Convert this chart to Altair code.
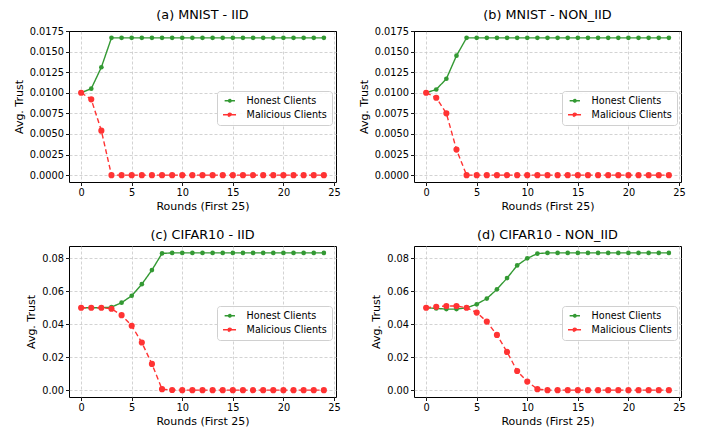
import altair as alt
import pandas as pd

rounds = list(range(25))
series_names = ["Honest Clients", "Malicious Clients"]

a_honest = [0.0100, 0.0105, 0.0131, 0.01667, 0.01667, 0.01667, 0.01667, 0.01667, 0.01667, 0.01667,
            0.01667, 0.01667, 0.01667, 0.01667, 0.01667, 0.01667, 0.01667, 0.01667, 0.01667, 0.01667,
            0.01667, 0.01667, 0.01667, 0.01667, 0.01667]
a_malicious = [0.0100, 0.0092, 0.0054, 0.0, 0.0, 0.0, 0.0, 0.0, 0.0, 0.0,
               0.0, 0.0, 0.0, 0.0, 0.0, 0.0, 0.0, 0.0, 0.0, 0.0,
               0.0, 0.0, 0.0, 0.0, 0.0]

b_honest = [0.0100, 0.0104, 0.0117, 0.0145, 0.01667, 0.01667, 0.01667, 0.01667, 0.01667, 0.01667,
            0.01667, 0.01667, 0.01667, 0.01667, 0.01667, 0.01667, 0.01667, 0.01667, 0.01667, 0.01667,
            0.01667, 0.01667, 0.01667, 0.01667, 0.01667]
b_malicious = [0.0100, 0.0094, 0.0075, 0.0031, 0.0, 0.0, 0.0, 0.0, 0.0, 0.0,
               0.0, 0.0, 0.0, 0.0, 0.0, 0.0, 0.0, 0.0, 0.0, 0.0,
               0.0, 0.0, 0.0, 0.0, 0.0]

c_honest = [0.0500, 0.0500, 0.0500, 0.0504, 0.0531, 0.0573, 0.0643, 0.0729, 0.0830, 0.0833,
            0.0833, 0.0833, 0.0833, 0.0833, 0.0833, 0.0833, 0.0833, 0.0833, 0.0833, 0.0833,
            0.0833, 0.0833, 0.0833, 0.0833, 0.0833]
c_malicious = [0.0500, 0.0500, 0.0500, 0.0494, 0.0455, 0.0391, 0.0289, 0.0159, 0.0006, 0.0001,
               0.0, 0.0, 0.0, 0.0, 0.0, 0.0, 0.0, 0.0, 0.0, 0.0,
               0.0, 0.0, 0.0, 0.0, 0.0]

d_honest = [0.0500, 0.0496, 0.0492, 0.0492, 0.0500, 0.0521, 0.0556, 0.0612, 0.0680, 0.0757,
            0.0800, 0.0829, 0.0833, 0.0833, 0.0833, 0.0833, 0.0833, 0.0833, 0.0833, 0.0833,
            0.0833, 0.0833, 0.0833, 0.0833, 0.0833]
d_malicious = [0.0500, 0.0506, 0.0511, 0.0511, 0.0500, 0.0471, 0.0416, 0.0335, 0.0232, 0.0116,
               0.0052, 0.0006, 0.0, 0.0, 0.0, 0.0, 0.0, 0.0, 0.0, 0.0,
               0.0, 0.0, 0.0, 0.0, 0.0]

titles = ["(a) MNIST - IID", "(b) MNIST - NON_IID", "(c) CIFAR10 - IID", "(d) CIFAR10 - NON_IID"]
x_ticks = [0, 5, 10, 15, 20, 25]
mnist_ticks = [0.0, 0.0025, 0.005, 0.0075, 0.01, 0.0125, 0.015, 0.0175]
cifar_ticks = [0.0, 0.02, 0.04, 0.06, 0.08]

colors = ["#339933", "#ff3333"]
W, H = 267, 151
FONT = "DejaVu Sans"

legend_symbol = "M-2.2,0L2.2,0M-0.55,0A0.55,0.55 0 1,1 0.55,0A0.55,0.55 0 1,1 -0.55,0Z"


def make_legend():
    return alt.Legend(title=None, orient="none", legendX=148, legendY=60)


def panel(title, honest, malicious, ydomain, yticks, fmt):
    df = pd.DataFrame({
        "round": rounds + rounds,
        "trust": honest + malicious,
        "series": [series_names[0]] * len(rounds) + [series_names[1]] * len(rounds),
    })
    base = alt.Chart(df)
    top = ydomain[1]
    x = alt.X("round:Q",
              scale=alt.Scale(domain=[-1.2, 25.2], nice=False, zero=False),
              axis=alt.Axis(values=x_ticks, format="d", title="Rounds (First 25)"))
    y = alt.Y("trust:Q",
              scale=alt.Scale(domain=ydomain, nice=False, zero=False),
              axis=alt.Axis(values=yticks, format=fmt, title="Avg. Trust",
                            gridColor={"condition": {"test": f"datum.value >= {top * 0.999}", "value": "black"},
                                       "value": "#c8c8c8"},
                            gridDash={"condition": {"test": f"datum.value >= {top * 0.999}", "value": [1, 0]},
                                      "value": [3, 2]}))
    line = base.mark_line(strokeWidth=1.4).encode(
        x=x, y=y,
        stroke=alt.Stroke("series:N", scale=alt.Scale(domain=series_names, range=colors), legend=make_legend()),
        strokeDash=alt.StrokeDash("series:N", scale=alt.Scale(domain=series_names, range=[[1, 0], [5, 3]]), legend=make_legend()),
    )
    pts = base.mark_point(filled=True, opacity=1).encode(
        x=x, y=y,
        fill=alt.Fill("series:N", scale=alt.Scale(domain=series_names, range=colors), legend=make_legend()),
        size=alt.Size("series:N", scale=alt.Scale(domain=series_names, range=[22, 38]), legend=None),
    )
    return alt.layer(line, pts).properties(
        width=W, height=H,
        title=alt.TitleParams(title, fontSize=12.8, font=FONT, fontWeight="normal", offset=4, frame="group", color="black"),
    )


pa = panel(titles[0], a_honest, a_malicious, [-0.000833, 0.0175], mnist_ticks, ".4f")
pb = panel(titles[1], b_honest, b_malicious, [-0.000833, 0.0175], mnist_ticks, ".4f")
pc = panel(titles[2], c_honest, c_malicious, [-0.004167, 0.0875], cifar_ticks, ".2f")
pd_ = panel(titles[3], d_honest, d_malicious, [-0.004167, 0.0875], cifar_ticks, ".2f")

chart = alt.concat(pa, pb, pc, pd_, columns=2, spacing={"row": 64, "column": 78}, bounds="flush").resolve_scale(
    x="independent", y="independent", stroke="independent", fill="independent",
    strokeDash="independent", size="independent"
).resolve_legend(
    stroke="independent", fill="independent", strokeDash="independent", size="independent"
).properties(
    padding={"left": 4, "top": 0, "right": 0, "bottom": 0}
).configure_view(
    stroke="black", strokeWidth=1
).configure_axis(
    labelFont=FONT, titleFont=FONT, labelFontSize=9.8, titleFontSize=11,
    labelColor="black", titleColor="black", titleFontWeight="normal",
    domain=False, tickColor="black", tickSize=3.5, tickWidth=0.9, labelPadding=2,
    grid=True, gridColor="#c8c8c8", gridDash=[3, 2], gridWidth=0.8,
).configure_axisY(titlePadding=5).configure_axisX(titlePadding=3).configure_legend(
    labelFont=FONT, labelFontSize=9.6, labelColor="black",
    symbolType=legend_symbol, symbolSize=100, symbolStrokeWidth=1.4,
    symbolOffset=3, labelOffset=12, rowPadding=3, padding=5,
    strokeColor="#d0d0d0", fillColor="rgba(255,255,255,0.85)", cornerRadius=3,
)

chart.save("out.html", embed_options={"renderer": "svg", "actions": False})
